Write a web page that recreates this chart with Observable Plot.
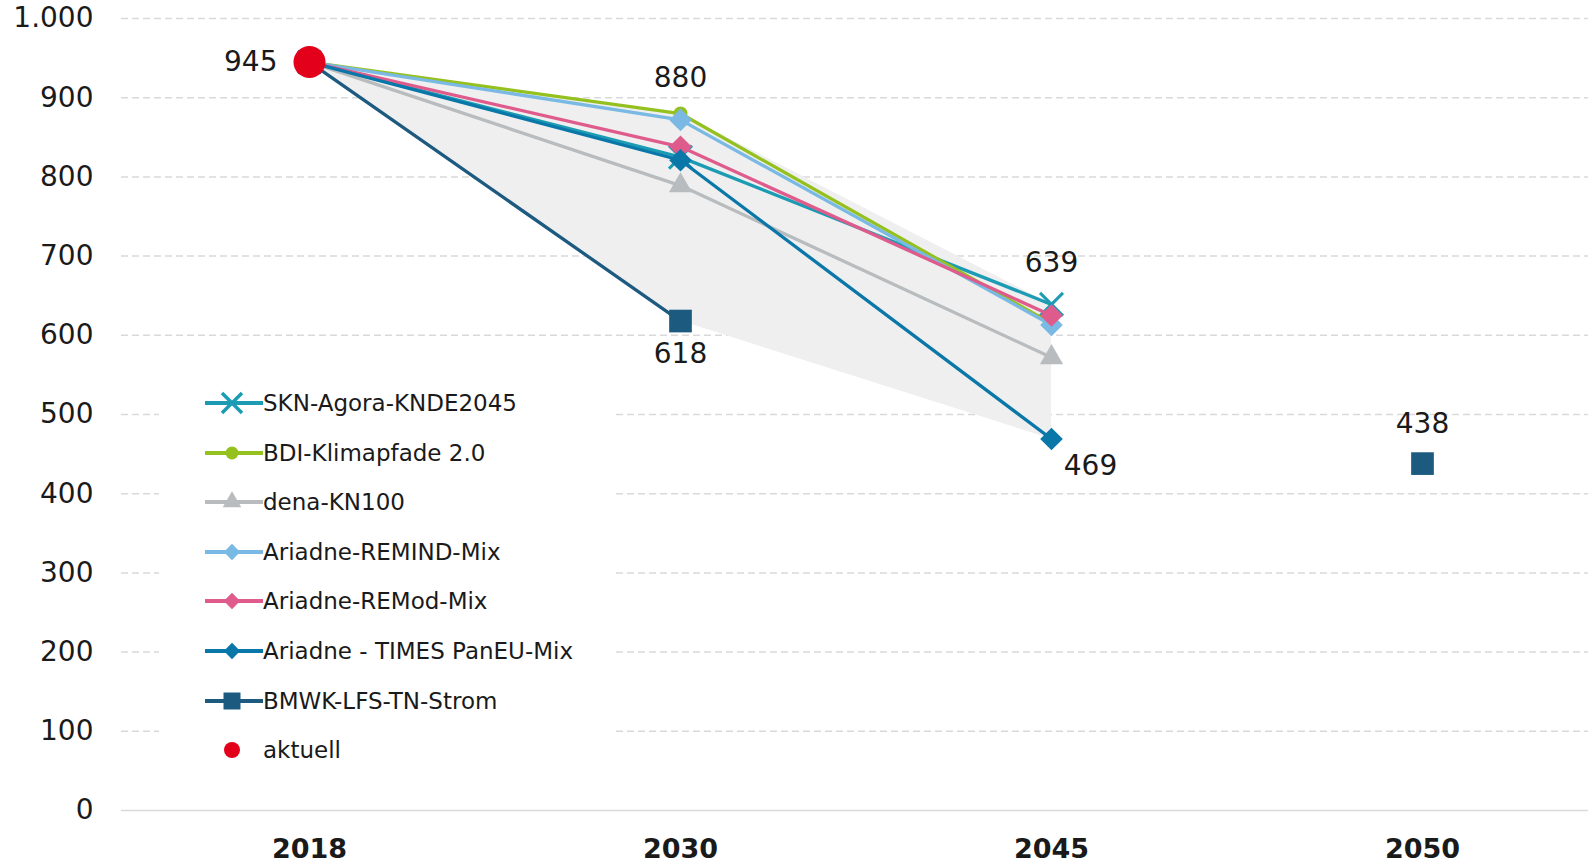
<!DOCTYPE html>
<html><head><meta charset="utf-8">
<script src="https://cdn.jsdelivr.net/npm/d3@7"></script>
<script src="https://cdn.jsdelivr.net/npm/@observablehq/plot@0.6"></script>
<style>
body{margin:0;background:#fff;}
#wrap{position:relative;width:1588px;height:863px;font-family:"DejaVu Sans",sans-serif;overflow:hidden;}
#legend{position:absolute;left:159px;top:378px;width:453px;height:392px;background:#fff;}
.item{position:absolute;left:46px;height:30px;display:flex;align-items:center;font-size:23px;color:#1a1a1a;white-space:nowrap;}
.item svg{display:block;margin-right:0px;}
</style></head><body><div id="wrap"><div id="chart"></div><div id="legend"></div></div>
<script>
// ---- data ----
const years = ["2018", "2030", "2045", "2050"];
const seriesNames = ["SKN-Agora-KNDE2045", "BDI-Klimapfade 2.0", "dena-KN100", "Ariadne-REMIND-Mix", "Ariadne-REMod-Mix", "Ariadne - TIMES PanEU-Mix", "BMWK-LFS-TN-Strom"];
const sknValues    = [945, 825, 639, null];
const bdiValues    = [945, 880, 615, null];
const denaValues   = [945, 789, 572, null];
const remindValues = [945, 872, 613, null];
const remodValues  = [945, 838, 625, null];
const timesValues  = [945, 821, 469, null];
const bmwkValues   = [945, 618, null, 438];
const aktuellName = "aktuell";
const aktuellYear = "2018";
const aktuellValue = 945;
const labelYears  = ["2018", "2030", "2030", "2045", "2045", "2050"];
const labelValues = [945, 880, 618, 639, 469, 438];
const yTicks = [0, 100, 200, 300, 400, 500, 600, 700, 800, 900, 1000];

// ---- styles ----
const seriesColors = ["#1b9cb4", "#95c11f", "#b9bcbe", "#79b9e3", "#de5b8b", "#0a77a9", "#1d5a80"];
const seriesSymbols = ["times", "circle", "triangle", "diamond2", "diamond2", "diamond2", "square"];
const seriesR = [10.5, 7, 8.6, 10.2, 10.2, 10.2, 12.8];
const aktuellColor = "#e2001a";
const textColor = "#1a1a1a";

const allValues = [sknValues, bdiValues, denaValues, remindValues, remodValues, timesValues, bmwkValues];
const seriesData = allValues.map((vals, i) => years.map((y, j) => ({series: seriesNames[i], year: y, value: vals[j]})));

// shaded range between min and max of the scenarios
const areaData = years.map((y, j) => {
  const v = allValues.map(a => a[j]).filter(d => d != null);
  return {year: y, lo: d3.min(v), hi: d3.max(v), n: v.length};
}).filter(d => d.n > 1);

const labelData = labelYears.map((y, i) => ({year: y, value: labelValues[i]}));
const labelOffsets = [
  {dx: -32, dy: 0, anchor: "end"},
  {dx: 0, dy: -36, anchor: "middle"},
  {dx: 0, dy: 33, anchor: "middle"},
  {dx: 0, dy: -41, anchor: "middle"},
  {dx: 39, dy: 27, anchor: "middle"},
  {dx: 0, dy: -40, anchor: "middle"}
];

const de = d3.formatLocale({decimal: ",", thousands: ".", grouping: [3], currency: ["", "€"]});
const yFmt = de.format(",d");

const seriesMarks = [];
seriesData.forEach((data, i) => {
  seriesMarks.push(Plot.line(data, {x: "year", y: "value", stroke: seriesColors[i], strokeWidth: 3.3}));
  const dotOpts = {x: "year", y: d => d.value, r: seriesR[i], symbol: seriesSymbols[i], filter: d => d.value != null};
  if (seriesSymbols[i] === "times") { dotOpts.stroke = seriesColors[i]; dotOpts.strokeWidth = 3; dotOpts.fill = "none"; }
  else { dotOpts.fill = seriesColors[i]; }
  seriesMarks.push(Plot.dot(data, dotOpts));
});

const labelMarks = labelData.map((d, i) => Plot.text([d], {
  x: "year", y: "value", text: dd => String(dd.value), dx: labelOffsets[i].dx, dy: labelOffsets[i].dy,
  textAnchor: labelOffsets[i].anchor, fontSize: 28, fill: textColor
}));

const chart = Plot.plot({
  width: 1588, height: 863,
  marginLeft: 121, marginRight: 0, marginTop: 18, marginBottom: 53,
  style: {fontFamily: "'DejaVu Sans', sans-serif", background: "#fff", color: textColor},
  x: {type: "point", domain: years, range: [308, 1423], padding: 0, label: null},
  y: {domain: [0, 1000], label: null},
  marks: [
    Plot.ruleY(yTicks.filter(d => d > 0), {stroke: "#d9d9d9", strokeWidth: 1.5, strokeDasharray: "7,4"}),
    Plot.ruleY([0], {stroke: "#d9d9d9", strokeWidth: 1.5}),
    Plot.areaY(areaData, {x: "year", y1: "lo", y2: "hi", fill: "#efefef"}),
    ...seriesMarks,
    Plot.dot([{year: aktuellYear, value: aktuellValue}], {x: "year", y: "value", r: 16, fill: aktuellColor}),
    ...labelMarks,
    Plot.axisY({ticks: yTicks, tickSize: 0, tickPadding: 28, tickFormat: yFmt, fontSize: 28, fill: textColor}),
    Plot.axisX({tickSize: 0, tickPadding: 28, fontSize: 27, fontWeight: "bold", fill: textColor})
  ]
});
document.getElementById("chart").appendChild(chart);

// ---- legend ----
const legend = d3.select("#legend");
const legendItems = seriesNames.map((n, i) => ({name: n, color: seriesColors[i], symbol: seriesSymbols[i]}));
legendItems.push({name: aktuellName, color: aktuellColor, symbol: "dot"});
const symMap = {times: d3.symbolTimes, circle: d3.symbolCircle, triangle: d3.symbolTriangle, diamond2: d3.symbolDiamond2, square: d3.symbolSquare};
const symSize = {times: 263, circle: 133, triangle: 150, diamond2: 170, square: 289};
legendItems.forEach((it, i) => {
  const item = legend.append("div").attr("class", "item").style("top", (10 + i * 49.6) + "px");
  const svg = item.append("svg").attr("width", 58).attr("height", 30);
  if (it.symbol === "dot") {
    svg.append("circle").attr("cx", 27).attr("cy", 15).attr("r", 8).attr("fill", it.color);
  } else {
    svg.append("line").attr("x1", 0).attr("x2", 58).attr("y1", 15).attr("y2", 15).attr("stroke", it.color).attr("stroke-width", 4);
    const p = svg.append("path").attr("transform", "translate(27,15)").attr("d", d3.symbol(symMap[it.symbol], symSize[it.symbol])());
    if (it.symbol === "times") p.attr("fill", "none").attr("stroke", it.color).attr("stroke-width", 3.5);
    else p.attr("fill", it.color);
  }
  item.append("span").text(it.name);
});
</script></body></html>
